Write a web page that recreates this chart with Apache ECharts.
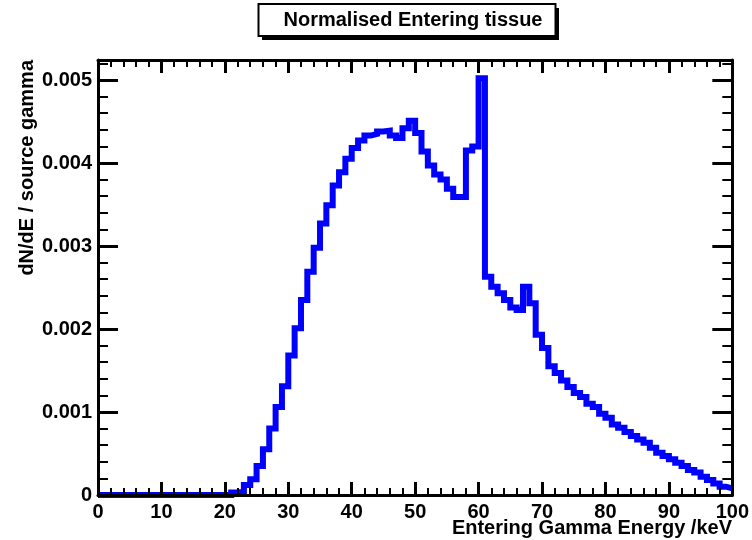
<!DOCTYPE html>
<html>
<head>
<meta charset="utf-8">
<script src="https://cdn.jsdelivr.net/npm/echarts@6/dist/echarts.min.js"></script>
<style>
  html, body { margin: 0; padding: 0; background: #fff; }
  #chart { width: 752px; height: 540px; }
</style>
</head>
<body>
<div id="chart"></div>
<script>
// Histogram: 100 bins of 1 keV from 0 to 100 keV; values in units of 1e-3 (dN/dE per source gamma)
var binWidthKeV = 1;
var countsE3 = [
  0, 0, 0, 0, 0, 0, 0, 0, 0, 0,
  0, 0, 0, 0, 0, 0, 0, 0, 0, 0,
  0, 0.03, 0.04, 0.12, 0.19, 0.35, 0.55, 0.80, 1.06, 1.31,
  1.68, 2.01, 2.35, 2.69, 2.98, 3.27, 3.49, 3.73, 3.89, 4.05,
  4.18, 4.27, 4.33, 4.35, 4.38, 4.39, 4.33, 4.30, 4.42, 4.51,
  4.36, 4.14, 3.97, 3.86, 3.80, 3.69, 3.59, 3.59, 4.15, 4.20,
  5.02, 2.63, 2.51, 2.43, 2.35, 2.26, 2.23, 2.51, 2.31, 1.93,
  1.77, 1.55, 1.47, 1.38, 1.30, 1.23, 1.18, 1.10, 1.06, 0.98,
  0.93, 0.85, 0.81, 0.76, 0.71, 0.67, 0.63, 0.57, 0.51, 0.47,
  0.43, 0.39, 0.35, 0.30, 0.27, 0.22, 0.18, 0.14, 0.10, 0.08
];
var xTickLabels = ['0','10','20','30','40','50','60','70','80','90','100'];
var yTickLabels = ['0','0.001','0.002','0.003','0.004','0.005'];
var titleText = 'Normalised Entering tissue';
var xTitle = 'Entering Gamma Energy /keV';
var yTitle = 'dN/dE / source gamma';

// Build step points at bin low edges, plus the final upper edge
var stepPoints = [];
for (var i = 0; i < countsE3.length; i++) {
  stepPoints.push([i * binWidthKeV, countsE3[i] / 1000]);
}
stepPoints.push([countsE3.length * binWidthKeV, countsE3[countsE3.length - 1] / 1000]);

var FONT = 'Liberation Sans';
var FS = 20;
var chart = echarts.init(document.getElementById('chart'), null, { renderer: 'canvas' });

function xLabelFmt(v) {
  var idx = Math.round(v / 10);
  if (Math.abs(v - idx * 10) > 1e-6) return '';
  return xTickLabels[idx] || '';
}
function yLabelFmt(v) {
  var k = Math.round(v * 1000);
  if (Math.abs(v * 1000 - k) > 1e-6) return '';
  return yTickLabels[k] || '';
}

var baseX = {
  type: 'value', min: 0, max: 100, interval: 10, z: 10,
  axisLine: { show: true, onZero: false, lineStyle: { color: '#000', width: 3 } },
  axisTick: { show: true, inside: true, length: 13, lineStyle: { color: '#000', width: 3 } },
  minorTick: { show: true, splitNumber: 5, length: 7, lineStyle: { color: '#000', width: 2 } },
  splitLine: { show: false },
  minorSplitLine: { show: false }
};
var baseY = {
  type: 'value', min: 0, max: 0.005241, interval: 0.001, z: 10,
  axisLine: { show: true, onZero: false, lineStyle: { color: '#000', width: 3 } },
  axisTick: { show: true, inside: true, length: 20, lineStyle: { color: '#000', width: 3 } },
  minorTick: { show: true, splitNumber: 5, length: 10, lineStyle: { color: '#000', width: 2 } },
  splitLine: { show: false },
  minorSplitLine: { show: false }
};

var option = {
  backgroundColor: '#fff',
  animation: false,
  grid: { left: 98, right: 19, top: 60, bottom: 45, containLabel: false },
  xAxis: [
    Object.assign({}, baseX, {
      position: 'bottom',
      axisLabel: { show: true, margin: 7, color: '#000', fontFamily: FONT, fontWeight: 'bold', fontSize: FS, formatter: xLabelFmt, showMinLabel: true, showMaxLabel: true }
    }),
    Object.assign({}, baseX, {
      position: 'top',
      axisLabel: { show: false }
    })
  ],
  yAxis: [
    Object.assign({}, baseY, {
      position: 'left',
      axisLabel: { show: true, margin: 6, color: '#000', fontFamily: FONT, fontWeight: 'bold', fontSize: FS, formatter: yLabelFmt, showMinLabel: true, showMaxLabel: true }
    }),
    Object.assign({}, baseY, {
      position: 'right',
      axisLabel: { show: false }
    })
  ],
  series: [{
    type: 'line',
    xAxisIndex: 0,
    yAxisIndex: 0,
    data: stepPoints,
    step: 'end',
    symbol: 'none',
    clip: true,
    z: 2,
    lineStyle: { color: '#0000ff', width: 6, cap: 'butt', join: 'miter' }
  }],
  graphic: [
    { type: 'rect', z: 50, shape: { x: 262, y: 8, width: 297, height: 32 }, style: { fill: '#000' } },
    { type: 'rect', z: 51, shape: { x: 258.5, y: 4, width: 297, height: 32 }, style: { fill: '#fff', stroke: '#000', lineWidth: 2 } },
    { type: 'text', z: 52, x: 413, y: 20, style: { text: titleText, fill: '#000', font: 'bold 20px "Liberation Sans"', textAlign: 'center', textVerticalAlign: 'middle' } },
    { type: 'text', z: 52, x: 732, y: 528, style: { text: xTitle, fill: '#000', font: 'bold 20px "Liberation Sans"', textAlign: 'right', textVerticalAlign: 'middle' } },
    { type: 'text', z: 52, x: 27, y: 60, rotation: Math.PI / 2, style: { text: yTitle, fill: '#000', font: 'bold 20px "Liberation Sans"', textAlign: 'right', textVerticalAlign: 'middle' } }
  ]
};
chart.setOption(option);
</script>
</body>
</html>
